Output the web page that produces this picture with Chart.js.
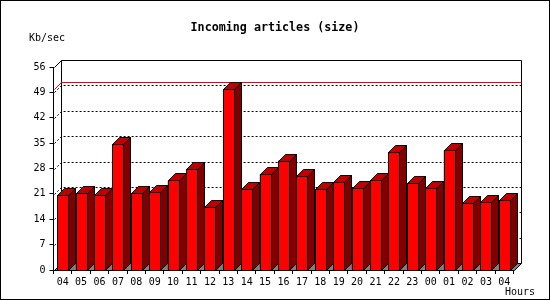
<!DOCTYPE html>
<html>
<head>
<meta charset="utf-8">
<script src="https://cdn.jsdelivr.net/npm/chart.js@4/dist/chart.umd.min.js"></script>
<style>
  html, body { margin: 0; padding: 0; background: #fff; }
  canvas { display: block; }
</style>
</head>
<body>
<canvas id="articlesChart" width="550" height="300"></canvas>
<script>
const hours = ['04', '05', '06', '07', '08', '09', '10', '11', '12', '13', '14', '15', '16',
               '17', '18', '19', '20', '21', '22', '23', '00', '01', '02', '03', '04'];
const sizeKb = [20.6, 21.2, 20.6, 34.7, 21.2, 21.4, 24.7, 27.9, 17.3, 49.8, 22.3, 26.4, 30.2,
                25.9, 22.3, 24.2, 22.5, 24.7, 32.5, 23.9, 22.5, 33.0, 18.4, 18.7, 19.2];
const yMax = 56;
const yStep = 7;
const peakValue = Math.max(...sizeKb);

const DEPTH = 7;
const MONO = '"DejaVu Sans Mono", "Liberation Mono", monospace';

function px(v) { return Math.round(v) + 0.5; }

// back wall, floor, dotted grid and the red peak line, all behind the bars
const frame3d = {
    id: 'frame3d',
    beforeDraw(chart) {
        const ctx = chart.ctx;
        ctx.save();
        ctx.fillStyle = '#fff';
        ctx.fillRect(0, 0, chart.width, chart.height);
        ctx.restore();
    },
    beforeDatasetsDraw(chart) {
        const ctx = chart.ctx;
        const a = chart.chartArea;
        const y = chart.scales.y;
        const L = px(a.left), R = px(a.right), T = px(a.top), B = px(a.bottom);
        const d = DEPTH;
        ctx.save();
        ctx.lineWidth = 1;

        // floor
        ctx.fillStyle = '#808080';
        ctx.strokeStyle = '#000';
        ctx.beginPath();
        ctx.moveTo(L, B);
        ctx.lineTo(R, B);
        ctx.lineTo(R + d, B - d);
        ctx.lineTo(L + d, B - d);
        ctx.closePath();
        ctx.fill();
        ctx.stroke();

        // back plane outline
        ctx.beginPath();
        ctx.moveTo(L, T);
        ctx.lineTo(L + d, T - d);
        ctx.lineTo(R + d, T - d);
        ctx.lineTo(R + d, B - d);
        ctx.moveTo(L + d, T - d);
        ctx.lineTo(L + d, B - d);
        ctx.stroke();

        // dotted grid
        ctx.setLineDash([2, 2]);
        for (let v = yStep; v < yMax; v += yStep) {
            const yy = px(y.getPixelForValue(v));
            ctx.beginPath();
            ctx.moveTo(L, yy);
            ctx.lineTo(L + d, yy - d);
            ctx.lineTo(R + d, yy - d);
            ctx.stroke();
        }
        ctx.setLineDash([]);

        // peak line
        const py = px(y.getPixelForValue(peakValue));
        ctx.strokeStyle = '#ff0000';
        ctx.beginPath();
        ctx.moveTo(L, py);
        ctx.lineTo(L + d, py - d);
        ctx.lineTo(R + d, py - d);
        ctx.stroke();
        ctx.restore();
    },
    afterDatasetsDraw(chart) {
        const ctx = chart.ctx;
        const d = DEPTH;
        const meta = chart.getDatasetMeta(0);
        ctx.save();
        ctx.lineWidth = 1;
        ctx.strokeStyle = '#000';
        meta.data.forEach(bar => {
            const p = bar.getProps(['x', 'y', 'base', 'width'], true);
            const left = px(p.x - p.width / 2);
            const right = px(p.x + p.width / 2);
            const top = px(p.y);
            const base = px(p.base);

            ctx.fillStyle = '#c00000';
            ctx.beginPath();
            ctx.moveTo(left, top);
            ctx.lineTo(left + d, top - d);
            ctx.lineTo(right + d, top - d);
            ctx.lineTo(right, top);
            ctx.closePath();
            ctx.fill();
            ctx.stroke();

            ctx.fillStyle = '#800000';
            ctx.beginPath();
            ctx.moveTo(right, top);
            ctx.lineTo(right + d, top - d);
            ctx.lineTo(right + d, base - d);
            ctx.lineTo(right, base);
            ctx.closePath();
            ctx.fill();
            ctx.stroke();

            ctx.fillStyle = '#ff0000';
            ctx.fillRect(left, top, right - left, base - top);
            ctx.strokeRect(left, top, right - left, base - top);
        });
        ctx.restore();
    },
    afterDraw(chart) {
        const ctx = chart.ctx;
        ctx.save();
        ctx.fillStyle = '#000';
        ctx.textBaseline = 'middle';
        ctx.textAlign = 'center';
        ctx.font = 'bold 11.7px ' + MONO;
        ctx.fillText('Incoming articles (size)', 275, 28);
        ctx.font = '10px ' + MONO;
        ctx.textAlign = 'left';
        ctx.fillText('Kb/sec', 29, 38);
        ctx.textAlign = 'right';
        ctx.fillText('Hours', 535, 292);
        ctx.strokeStyle = '#000';
        ctx.lineWidth = 1;
        ctx.strokeRect(0.5, 0.5, chart.width - 1, chart.height - 1);
        ctx.restore();
    }
};

new Chart(document.getElementById('articlesChart'), {
    type: 'bar',
    data: {
        labels: hours,
        datasets: [{
            label: 'Incoming articles (size)',
            data: sizeKb,
            backgroundColor: '#ff0000',
            borderColor: '#000',
            borderWidth: 1,
            borderSkipped: false,
            barPercentage: 0.6,
            categoryPercentage: 1
        }]
    },
    options: {
        responsive: false,
        animation: false,
        devicePixelRatio: 1,
        layout: { padding: { left: 0, right: 36.5, top: 67, bottom: 0 } },
        plugins: {
            legend: { display: false },
            tooltip: { enabled: false },
            title: { display: false }
        },
        scales: {
            x: {
                afterFit(scale) { scale.height = 30; },
                grid: { drawOnChartArea: false, tickLength: 4, color: '#000', offset: true },
                border: { display: true, color: '#000' },
                ticks: {
                    color: '#000',
                    font: { family: MONO, size: 10 },
                    padding: 2,
                    maxRotation: 0,
                    autoSkip: false
                }
            },
            y: {
                min: 0,
                max: yMax,
                afterFit(scale) { scale.width = 53.5; },
                grid: { drawOnChartArea: false, tickLength: 4, color: '#000' },
                border: { display: true, color: '#000' },
                ticks: {
                    stepSize: yStep,
                    color: '#000',
                    font: { family: MONO, size: 10 },
                    padding: 4
                }
            }
        }
    },
    plugins: [frame3d]
});
</script>
</body>
</html>
